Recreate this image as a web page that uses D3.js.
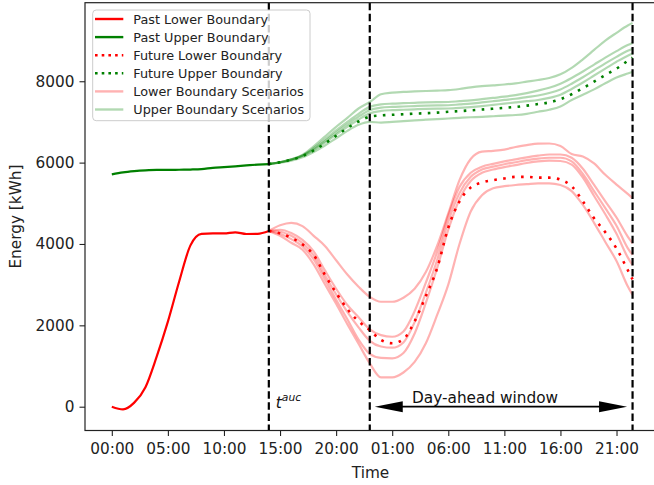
<!DOCTYPE html>
<html><head><meta charset="utf-8">
<script src="https://cdn.jsdelivr.net/npm/d3@7"></script>
<style>body{margin:0;background:#fff}svg{display:block}text{font-family:"DejaVu Sans",sans-serif}</style>
</head><body><svg id="c" width="654" height="485"></svg>
<script>
// ---- data ----
const hoursPast = [0,1,2,3,4,5,6,7,8,9,10,11,12,13,14];
const pastLower = [0,-65,100,480,1230,2090,3070,3960,4250,4260,4260,4285,4245,4250,4320];
const pastUpper = [5710,5760,5790,5810,5820,5820,5825,5830,5840,5870,5890,5910,5930,5950,5965];

const hoursFuture = [14,15,16,17,18,19,20,21,22,23,24,25,26,27,28,29,30,31,32,33,34,35,36,37,38,39,40,41,42,43,44,45,46,46.43];
const futureLower = [4320,4260,4150,3990,3730,3240,2800,2400,2100,1880,1640,1560,1660,2100,2720,3400,4400,5050,5390,5510,5570,5610,5650,5650,5630,5630,5580,5420,5050,4630,4290,3890,3360,3130];
const futureUpper = [5965,6010,6070,6160,6300,6470,6660,6850,7010,7130,7160,7175,7190,7205,7215,7230,7250,7265,7285,7305,7325,7345,7370,7400,7440,7480,7560,7680,7830,7990,8150,8310,8500,8580];

const lowerScen1 = [4320,4460,4520,4440,4200,3950,3600,3250,2950,2700,2580,2580,2680,2900,3310,3950,4750,5570,6090,6270,6290,6320,6385,6430,6465,6470,6410,6210,6150,5980,5700,5460,5230,5120];
const lowerScen2 = [4320,4350,4270,4100,3820,3350,2900,2500,2200,1900,1760,1720,1850,2350,3050,3800,4700,5400,5750,5900,5970,6030,6080,6130,6170,6200,6200,6120,5850,5450,5050,4650,4180,4015];
const lowerScen3 = [4320,4300,4200,4020,3720,3230,2760,2330,1950,1620,1480,1450,1580,2080,2800,3600,4550,5250,5650,5830,5900,5960,6010,6060,6100,6120,6120,6030,5720,5300,4880,4450,3900,3730];
const lowerScen4 = [4320,4250,4120,3940,3620,3130,2630,2150,1650,1300,1200,1190,1320,1800,2550,3400,4350,5100,5550,5750,5830,5890,5940,5990,6030,6050,6040,5950,5630,5180,4730,4250,3670,3480];
const lowerScen5 = [4320,4200,4030,3860,3500,3010,2530,2030,1550,1066,720,720,840,1100,1560,2250,3000,4000,4800,5200,5370,5420,5450,5470,5490,5490,5450,5300,4960,4520,4050,3580,2960,2745];

const upperScen1 = [5965,6010,6080,6190,6400,6640,6880,7100,7330,7490,7680,7720,7740,7750,7760,7770,7780,7810,7850,7880,7900,7920,7950,7990,8030,8080,8170,8330,8540,8770,9000,9190,9370,9430];
const upperScen2 = [5965,6010,6080,6180,6360,6570,6790,7000,7200,7370,7430,7450,7460,7470,7480,7485,7490,7510,7530,7560,7590,7620,7660,7710,7770,7840,7940,8080,8240,8410,8580,8740,8890,8940];
const upperScen3 = [5965,6010,6075,6170,6330,6530,6740,6940,7130,7290,7350,7370,7380,7390,7400,7405,7410,7430,7450,7480,7510,7540,7570,7610,7650,7710,7800,7940,8100,8270,8440,8600,8750,8800];
const upperScen4 = [5965,6005,6070,6160,6310,6490,6690,6880,7060,7210,7270,7290,7300,7310,7320,7325,7330,7345,7365,7390,7420,7450,7480,7510,7540,7590,7670,7810,7970,8140,8310,8480,8630,8680];
const upperScen5 = [5965,6000,6050,6130,6260,6420,6600,6780,6930,7000,6985,7000,7020,7040,7055,7070,7085,7100,7115,7125,7140,7155,7170,7200,7250,7300,7380,7540,7670,7800,7950,8090,8190,8230];

const xTickValues = [0,5,10,15,20,25,30,35,40,45];
const xTickLabels = ["00:00","05:00","10:00","15:00","20:00","01:00","06:00","11:00","16:00","21:00"];
const yTickValues = [0,2000,4000,6000,8000];
const tAuc = 14, dayAheadStart = 23, dayAheadEnd = 46.43;
const legendLabels = ["Past Lower Boundary","Past Upper Boundary","Future Lower Boundary","Future Upper Boundary","Lower Boundary Scenarios","Upper Boundary Scenarios"];

// ---- layout ----
const svg = d3.select("#c");
const L = 85, R = 656, T = 2.7, B = 430.5;
const x = d3.scaleLinear().domain([-2.39, 48.52]).range([L, R]);
const y = d3.scaleLinear().domain([-585, 9931]).range([B, T]);
const FS = 15.3;
const RED = "#ff0000", GREEN = "#008000";

const clip = svg.append("defs").append("clipPath").attr("id","pc")
  .append("rect").attr("x",L).attr("y",T).attr("width",R-L).attr("height",B-T);
const plot = svg.append("g").attr("clip-path","url(#pc)");

const line = (xs) => d3.line().x((d,i)=>x(xs[i])).y(d=>y(d)).curve(d3.curveMonotoneX);
const lp = line(hoursPast), lf = line(hoursFuture);

const lowerScens = [lowerScen1,lowerScen2,lowerScen3,lowerScen4,lowerScen5];
const upperScens = [upperScen1,upperScen2,upperScen3,upperScen4,upperScen5];

lowerScens.forEach(s => plot.append("path").attr("d", lf(s)).attr("fill","none")
  .attr("stroke",RED).attr("stroke-opacity",0.3).attr("stroke-width",2.2));
upperScens.forEach(s => plot.append("path").attr("d", lf(s)).attr("fill","none")
  .attr("stroke",GREEN).attr("stroke-opacity",0.3).attr("stroke-width",2.2));

plot.append("path").attr("d", lp(pastLower)).attr("fill","none").attr("stroke",RED).attr("stroke-width",2.2);
plot.append("path").attr("d", lp(pastUpper)).attr("fill","none").attr("stroke",GREEN).attr("stroke-width",2.2);
plot.append("path").attr("d", lf(futureLower)).attr("fill","none").attr("stroke",RED).attr("stroke-width",2.6).attr("stroke-dasharray","2.6,6.4");
plot.append("path").attr("d", lf(futureUpper)).attr("fill","none").attr("stroke",GREEN).attr("stroke-width",2.6).attr("stroke-dasharray","2.6,6.4");

// vertical dashed lines
[tAuc, dayAheadStart, dayAheadEnd].forEach(v => plot.append("line")
  .attr("x1",x(v)).attr("x2",x(v)).attr("y1",T).attr("y2",B)
  .attr("stroke","#000").attr("stroke-width",2.2).attr("stroke-dasharray","7.5,3.6"));

// t^auc label
const ta = svg.append("text").attr("x", x(tAuc)+7).attr("y", y(0)+1).attr("font-size",FS).attr("fill","#111").attr("font-style","italic");
ta.append("tspan").text("t");
ta.append("tspan").attr("dy",-7).attr("font-size",FS*0.7).text("auc");

// day-ahead arrow
const ay = y(0), ax1 = x(dayAheadStart)+5, ax2 = x(dayAheadEnd)-5.5, hl = 28, hw = 5.5;
svg.append("line").attr("x1",ax1+hl-2).attr("x2",ax2-hl+2).attr("y1",ay).attr("y2",ay).attr("stroke","#000").attr("stroke-width",1.8);
svg.append("path").attr("d",`M${ax1},${ay}L${ax1+hl},${ay-hw}L${ax1+hl},${ay+hw}Z`).attr("fill","#000");
svg.append("path").attr("d",`M${ax2},${ay}L${ax2-hl},${ay-hw}L${ax2-hl},${ay+hw}Z`).attr("fill","#000");
svg.append("text").attr("x", x(33.28)).attr("y", ay-3.5).attr("text-anchor","middle").attr("font-size",FS).attr("fill","#111").text("Day-ahead window");

// axes
const gx = svg.append("g").attr("transform",`translate(0,${B})`)
  .call(d3.axisBottom(x).tickValues(xTickValues).tickFormat((d,i)=>xTickLabels[i]).tickSize(5.5).tickPadding(7));
const gy = svg.append("g").attr("transform",`translate(${L},0)`)
  .call(d3.axisLeft(y).tickValues(yTickValues).tickFormat(d3.format("d")).tickSize(5.5).tickPadding(5));
[gx,gy].forEach(g => {
  g.select(".domain").remove();
  g.selectAll(".tick line").attr("stroke","#222").attr("stroke-width",1.1);
  g.selectAll(".tick text").attr("font-size",FS).attr("fill","#222").attr("font-family","DejaVu Sans");
});
// spines
svg.append("rect").attr("x",L).attr("y",T).attr("width",R-L).attr("height",B-T)
  .attr("fill","none").attr("stroke","#222").attr("stroke-width",1.2);

svg.append("text").attr("x",(L+R)/2).attr("y",478).attr("text-anchor","middle").attr("font-size",FS).attr("fill","#222").text("Time");
svg.append("text").attr("transform",`translate(21.3,${(T+B)/2}) rotate(-90)`).attr("text-anchor","middle").attr("font-size",FS).attr("fill","#222").text("Energy [kWh]");

// legend
const lg = svg.append("g");
lg.append("rect").attr("x",92.7).attr("y",10).attr("width",217.3).attr("height",110.7).attr("rx",3.5)
  .attr("fill","#fff").attr("fill-opacity",0.8).attr("stroke","#cccccc").attr("stroke-width",1);
const styles = [
  {c:RED,o:1,d:null,w:2.4},{c:GREEN,o:1,d:null,w:2.4},
  {c:RED,o:1,d:"2.6,4.1",w:2.6},{c:GREEN,o:1,d:"2.6,4.1",w:2.6},
  {c:RED,o:0.3,d:null,w:2.4},{c:GREEN,o:0.3,d:null,w:2.4}];
legendLabels.forEach((lab,i) => {
  const cy = 19 + i*18.1;
  const ln = lg.append("line").attr("x1",95).attr("x2",123.3).attr("y1",cy).attr("y2",cy)
    .attr("stroke",styles[i].c).attr("stroke-opacity",styles[i].o).attr("stroke-width",styles[i].w);
  if (styles[i].d) ln.attr("stroke-dasharray",styles[i].d);
  lg.append("text").attr("x",133.3).attr("y",cy+4.6).attr("font-size",12.8).attr("fill","#222").text(lab);
});
</script></body></html>
